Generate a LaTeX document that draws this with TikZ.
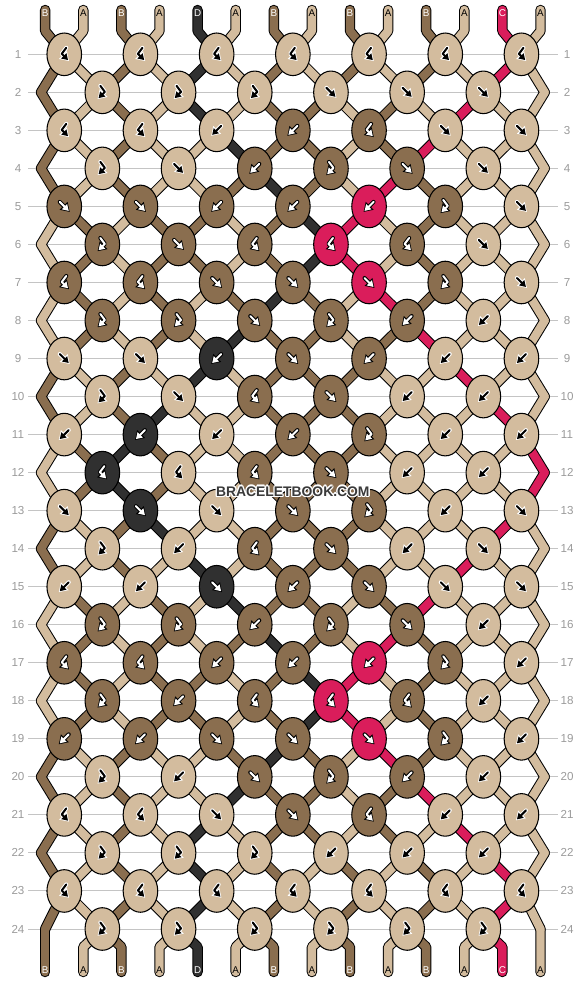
\documentclass[tikz,border=0pt]{standalone}
\usepackage{fontspec}
\setmainfont{Liberation Sans}
\usetikzlibrary{shapes.geometric,arrows.meta}

\definecolor{colA}{HTML}{D3BC9E} %糸A
\definecolor{colB}{HTML}{8A6E4F} %糸B
\definecolor{colC}{HTML}{DA1D5B} %糸C
\definecolor{colD}{HTML}{303030} %糸D
\colorlet{fgA}{black}\colorlet{fgB}{white}\colorlet{fgC}{white}\colorlet{fgD}{white}
\colorlet{bgA}{white}\colorlet{bgB}{black}\colorlet{bgC}{black}\colorlet{bgD}{black}
\definecolor{rowgray}{HTML}{9A9A9A}
\definecolor{linegray}{HTML}{C4C4C4}
\definecolor{wmgray}{HTML}{3A3A3A}

\pgfdeclarelayer{back}
\pgfdeclarelayer{strout}
\pgfdeclarelayer{strin}
\pgfsetlayers{back,strout,strin,main}

% 矢印の形
\def\icf{(-4.5,-4.5) -- (4.5,4.5)}
\def\icb{(4.5,-4.5) -- (-4.5,4.5)}
\def\icfb{(-2,-6.5) -- (2.5,-0.5) -- (-3.8,5.8)}
\def\icbf{(2,-6.5) -- (-2.5,-0.5) -- (3.8,5.8)}

\newcommand{\setkn}[2]{\expandafter\def\csname kn#1\endcsname{#2}}
\newcommand{\setst}[2]{\expandafter\def\csname st#1\endcsname{#2}}

% 糸の区間を全部たどる
\newcommand{\segloop}[1]{%
 \foreach \ro in {0,...,24}{%
  \pgfmathtruncatemacro\rn{\ro+1}%
  \edef\slist{\csname st\ro\endcsname}%
  \foreach \kc [count=\ps from 0] in \slist {%
   \ifnum\ro=0 \def\seg{(ts-\ps) -- (tv-\ps) -- (p-1-\ps)}%
   \else\ifnum\ro=24 \def\seg{(p-24-\ps) -- (bv-\ps) -- (be-\ps)}%
   \else \def\seg{(p-\ro-\ps) -- (p-\rn-\ps)}\fi\fi
   #1}}}

% 結び目 (色/種類)
\setkn{1}{A/bf,A/bf,A/bf,A/bf,A/bf,A/bf,A/bf}
\setkn{2}{A/fb,A/fb,A/fb,A/f,A/f,A/f}
\setkn{3}{A/bf,A/bf,A/b,B/b,B/bf,A/f,A/f}
\setkn{4}{A/fb,A/f,B/b,B/fb,B/f,A/f}
\setkn{5}{B/f,B/f,B/b,B/b,C/b,B/fb,A/f}
\setkn{6}{B/fb,B/f,B/bf,C/bf,B/bf,A/f}
\setkn{7}{B/bf,B/bf,B/f,B/f,C/f,B/fb,A/f}
\setkn{8}{B/fb,B/fb,B/f,B/fb,B/b,A/b}
\setkn{9}{A/f,A/f,D/b,B/f,B/b,A/b,A/b}
\setkn{10}{A/fb,A/f,B/bf,B/f,A/b,A/b}
\setkn{11}{A/b,D/b,A/b,B/b,B/fb,A/b,A/b}
\setkn{12}{D/bf,A/bf,B/bf,B/f,A/b,A/b}
\setkn{13}{A/f,D/f,A/f,B/f,B/fb,A/b,A/f}
\setkn{14}{A/fb,A/b,B/bf,B/f,A/b,A/f}
\setkn{15}{A/b,A/b,D/f,B/b,B/f,A/f,A/f}
\setkn{16}{B/fb,B/fb,B/b,B/fb,B/f,A/b}
\setkn{17}{B/bf,B/bf,B/b,B/b,C/b,B/fb,A/b}
\setkn{18}{B/fb,B/b,B/bf,C/bf,B/bf,A/b}
\setkn{19}{B/b,B/b,B/f,B/f,C/f,B/fb,A/b}
\setkn{20}{A/fb,A/b,B/f,B/fb,B/b,A/b}
\setkn{21}{A/bf,A/bf,A/f,B/f,B/bf,A/b,A/b}
\setkn{22}{A/fb,A/fb,A/fb,A/b,A/b,A/b}
\setkn{23}{A/bf,A/bf,A/bf,A/bf,A/bf,A/bf,A/bf}
\setkn{24}{A/fb,A/fb,A/fb,A/fb,A/fb,A/fb}

% 各段の後の糸の並び
\setst{0}{B,A,B,A,D,A,B,A,B,A,B,A,C,A}
\setst{1}{B,A,B,A,D,A,B,A,B,A,B,A,C,A}
\setst{2}{B,A,B,A,D,A,B,B,A,B,A,C,A,A}
\setst{3}{B,A,B,A,A,D,B,B,A,B,C,A,A,A}
\setst{4}{B,A,B,A,A,B,D,B,A,C,B,A,A,A}
\setst{5}{A,B,A,B,B,A,B,D,C,A,B,A,A,A}
\setst{6}{A,B,A,B,B,A,B,D,C,A,B,A,A,A}
\setst{7}{A,B,A,B,A,B,D,B,A,C,B,A,A,A}
\setst{8}{A,B,A,B,A,D,B,B,A,B,C,A,A,A}
\setst{9}{B,A,B,A,D,A,B,B,B,A,A,C,A,A}
\setst{10}{B,A,B,D,A,A,B,B,B,A,A,A,C,A}
\setst{11}{A,B,D,B,A,A,B,B,B,A,A,A,A,C}
\setst{12}{A,B,D,B,A,A,B,B,B,A,A,A,A,C}
\setst{13}{B,A,B,D,A,A,B,B,B,A,A,A,C,A}
\setst{14}{B,A,B,A,D,A,B,B,B,A,A,C,A,A}
\setst{15}{A,B,A,B,A,D,B,B,A,B,C,A,A,A}
\setst{16}{A,B,A,B,A,B,D,B,A,C,B,A,A,A}
\setst{17}{A,B,A,B,B,A,B,D,C,A,B,A,A,A}
\setst{18}{A,B,A,B,B,A,B,D,C,A,B,A,A,A}
\setst{19}{B,A,B,A,A,B,D,B,A,C,B,A,A,A}
\setst{20}{B,A,B,A,A,D,B,B,A,B,C,A,A,A}
\setst{21}{B,A,B,A,D,A,B,B,A,B,A,C,A,A}
\setst{22}{B,A,B,A,D,A,B,A,B,A,B,A,C,A}
\setst{23}{B,A,B,A,D,A,B,A,B,A,B,A,C,A}
\setst{24}{B,A,B,A,D,A,B,A,B,A,B,A,C,A}

\begin{document}
\begin{tikzpicture}[x=0.02cm,y=-0.02cm,
  knot/.style={ellipse,draw=black,line width=0.6pt,minimum width=0.692cm,minimum height=0.852cm,inner sep=0pt},
  icout/.style={line width=2.3pt,line cap=round,line join=round,-{Triangle[length=4.9pt,width=6pt]},shorten >=-0.8pt},
  icin/.style={line width=1.15pt,line cap=round,line join=round,-{Triangle[length=3.4pt,width=4pt]}},
  strline/.style={line width=5.95pt,line cap=round,line join=round,draw=black},
  strfill/.style={line width=4.8pt,line cap=round,line join=round},
  rownum/.style={text=rowgray,font=\fontsize{6.6pt}{7pt}\selectfont,inner sep=0pt},
  lab/.style={font=\fontsize{5.6pt}{6pt}\selectfont,inner sep=0pt},
  wmark/.style={font=\bfseries\fontsize{7.9pt}{9pt}\selectfont,inner sep=0pt}]
 \useasboundingbox (0,0) rectangle (582,984);

 % 段番号と横線
 \begin{pgfonlayer}{back}
 \foreach \ro in {1,...,24}{
  \pgfmathsetmacro\yy{54.3+38.03*(\ro-1)}
  \node[rownum] (nl-\ro) at (18,\yy) {\ro};
  \node[rownum] (nr-\ro) at (567,\yy) {\ro};
  \coordinate (ll-\ro) at (28,\yy);
  \coordinate (lr-\ro) at (558,\yy);
  \draw[linegray,line width=0.55pt] (ll-\ro) -- (lr-\ro);
 }
 \end{pgfonlayer}

 % 結び目
 \foreach \ro in {1,...,24}{
  \pgfmathsetmacro\yy{54.3+38.03*(\ro-1)}
  \pgfmathtruncatemacro\od{mod(\ro,2)}
  \edef\klist{\csname kn\ro\endcsname}
  \foreach \kc/\kt [count=\j from 0] in \klist {
   \pgfmathsetmacro\xx{64.25+38.1*(1-\od)+76.2*\j}
   \pgfmathtruncatemacro\pl{2*\j+1-\od}
   \pgfmathtruncatemacro\pr{\pl+1}
   \node[knot,fill=col\kc] (k-\ro-\j) at (\xx,\yy) {};
   \coordinate (p-\ro-\pl) at (k-\ro-\j.center);
   \coordinate (p-\ro-\pr) at (k-\ro-\j.center);
   \expandafter\let\expandafter\icpath\csname ic\kt\endcsname
   \begin{scope}[shift={(k-\ro-\j.center)}]
    \draw[icout,draw=bg\kc] \icpath;
    \draw[icin,draw=fg\kc] \icpath;
   \end{scope}
  }
  \ifodd\ro\else
   \ifnum\ro=24
    \coordinate (p-\ro-0) at (45.2,\yy); %左端
    \coordinate (p-\ro-13) at (540.5,\yy); %右端
   \else
    \coordinate (p-\ro-0) at (41,\yy); %左端
    \coordinate (p-\ro-13) at (544.7,\yy); %右端
   \fi
  \fi
 }

 % 上下の糸端とラベル
 \edef\slist{\csname st0\endcsname}
 \foreach \kc [count=\ps from 0] in \slist {
  \pgfmathsetmacro\xx{45.2+38.1*\ps}
  \coordinate (ts-\ps) at (\xx,10);
  \coordinate (tv-\ps) at (\xx,31);
  \coordinate (bv-\ps) at (\xx,947);
  \coordinate (be-\ps) at (\xx,972);
  \node[lab,text=fg\kc] (tl-\ps) at (\xx,13.5) {\kc};
  \node[lab,text=fg\kc] (bl-\ps) at (\xx,970.5) {\kc};
 }

 % 糸 (縁取り, 色)
 \begin{pgfonlayer}{strout}
  \segloop{\draw[strline] \seg;}
 \end{pgfonlayer}
 \begin{pgfonlayer}{strin}
  \segloop{\draw[strfill,draw=col\kc] \seg;}
 \end{pgfonlayer}

 % ロゴ
 \foreach \dx/\dy [count=\h] in {1.3/0,-1.3/0,0/1.3,0/-1.3,0.9/0.9,-0.9/0.9,0.9/-0.9,-0.9/-0.9}
  \node[wmark,text=white] (wmh-\h) at (292.8+\dx,491.5+\dy) {BRACELETBOOK.COM};
 \node[wmark,text=wmgray] (wm) at (292.8,491.5) {BRACELETBOOK.COM};
\end{tikzpicture}
\end{document}
